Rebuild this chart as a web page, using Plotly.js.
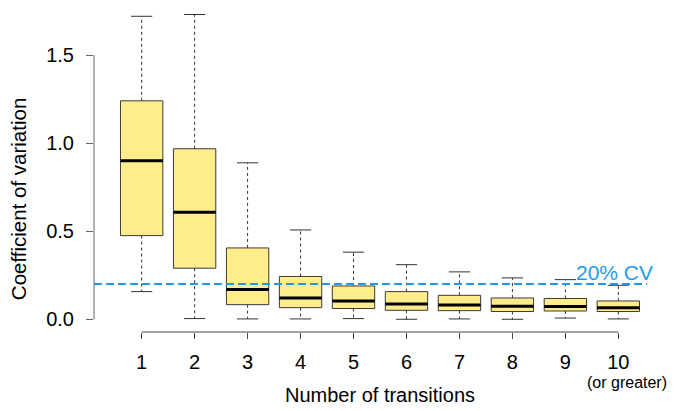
<!DOCTYPE html>
<html>
<head>
<meta charset="utf-8">
<script src="https://cdn.plot.ly/plotly-3.0.1.min.js"></script>
<style>html,body{margin:0;padding:0;background:#fff;}#chart{width:676px;height:411px;}</style>
</head>
<body>
<div id="chart"></div>
<script>
// Data
const categories = [1, 2, 3, 4, 5, 6, 7, 8, 9, 10];
const tickLabels = ['1', '2', '3', '4', '5', '6', '7', '8', '9', '10'];
const lowerWhisker = [0.157, 0.004, 0.002, 0.002, 0.004, 0.000, 0.002, 0.000, 0.007, 0.002];
const q1 = [0.475, 0.290, 0.083, 0.066, 0.061, 0.051, 0.049, 0.044, 0.047, 0.044];
const median = [0.900, 0.608, 0.169, 0.121, 0.104, 0.087, 0.081, 0.074, 0.072, 0.066];
const q3 = [1.240, 0.968, 0.405, 0.243, 0.189, 0.157, 0.136, 0.121, 0.118, 0.104];
const upperWhisker = [1.720, 1.730, 0.888, 0.507, 0.381, 0.310, 0.269, 0.235, 0.225, 0.193];
const cvThreshold = 0.2;
const yTicks = [0, 0.5, 1.0, 1.5];

const FONT = 'Liberation Sans, Arial, Helvetica, sans-serif';
const BOXW = 0.8, CAPW = 0.4;

function segs(xFn, yFn) {
  const xs = [], ys = [];
  categories.forEach((c, i) => {
    const [xa, xb] = xFn(c, i); const [ya, yb] = yFn(c, i);
    xs.push(xa, xb, null); ys.push(ya, yb, null);
  });
  return {x: xs, y: ys};
}

const whiskUp = segs(c => [c, c], (c, i) => [q3[i], upperWhisker[i]]);
const whiskDn = segs(c => [c, c], (c, i) => [q1[i], lowerWhisker[i]]);
const capUp = segs(c => [c - CAPW / 2, c + CAPW / 2], (c, i) => [upperWhisker[i], upperWhisker[i]]);
const capDn = segs(c => [c - CAPW / 2, c + CAPW / 2], (c, i) => [lowerWhisker[i], lowerWhisker[i]]);
const med = segs(c => [c - BOXW / 2, c + BOXW / 2], (c, i) => [median[i], median[i]]);

const whiskLine = {color: '#333', width: 1, dash: '3px,3px'};
const capLine = {color: '#333', width: 1};

const traces = [
  {type: 'bar', x: categories, base: q1, y: q3.map((v, i) => v - q1[i]), width: BOXW,
   marker: {color: '#FFEC8B', line: {color: '#3a3a3a', width: 1}}, hoverinfo: 'skip'},
  {type: 'scatter', mode: 'lines', x: whiskUp.x, y: whiskUp.y, line: whiskLine, hoverinfo: 'skip'},
  {type: 'scatter', mode: 'lines', x: whiskDn.x, y: whiskDn.y, line: whiskLine, hoverinfo: 'skip'},
  {type: 'scatter', mode: 'lines', x: capUp.x, y: capUp.y, line: capLine, hoverinfo: 'skip'},
  {type: 'scatter', mode: 'lines', x: capDn.x, y: capDn.y, line: capLine, hoverinfo: 'skip'},
  {type: 'scatter', mode: 'lines', x: med.x, y: med.y, line: {color: '#000', width: 3}, hoverinfo: 'skip'}
];

const layout = {
  width: 676, height: 411,
  margin: {l: 94, r: 10, t: 2, b: 79},
  paper_bgcolor: '#fff', plot_bgcolor: '#fff',
  showlegend: false,
  font: {family: FONT, color: '#000', size: 20},
  xaxis: {
    range: [0.1, 10.9], tickvals: categories, ticktext: tickLabels,
    ticks: 'outside', ticklen: 6, tickcolor: '#444', tickwidth: 1,
    showline: false, showgrid: false, zeroline: false,
    tickfont: {size: 20, family: FONT}, ticklabelstandoff: 6,
    title: {text: 'Number of transitions', font: {size: 20, family: FONT}, standoff: 15}
  },
  yaxis: {
    range: [-0.0722, 1.801], tickvals: yTicks, ticktext: yTicks.map(v => v.toFixed(1)),
    ticks: 'outside', ticklen: 7, tickcolor: '#666', tickwidth: 1,
    showline: false, showgrid: false, zeroline: false,
    tickfont: {size: 20, family: FONT}, ticklabelstandoff: 8
  },
  shapes: [
    {type: 'line', xref: 'paper', yref: 'y', x0: 0, x1: 0, y0: yTicks[0], y1: yTicks[yTicks.length - 1],
     line: {color: '#666', width: 1}},
    {type: 'line', xref: 'x', yref: 'paper', x0: categories[0], x1: categories[categories.length - 1], y0: 0, y1: 0,
     line: {color: '#444', width: 1}},
    {type: 'line', xref: 'paper', yref: 'y', x0: 0, x1: 0.967, y0: cvThreshold, y1: cvThreshold, layer: 'above',
     line: {color: '#1f9be6', width: 2, dash: '8px,4px'}}
  ],
  annotations: [
    {xref: 'paper', yref: 'y', x: 0, y: 0.682, xshift: -76, text: 'Coefficient of variation', textangle: -90,
     showarrow: false, xanchor: 'center', yanchor: 'middle', font: {size: 20.5, color: '#000', family: FONT}},
    {xref: 'x', yref: 'y', x: 10, y: cvThreshold, xshift: -4, yshift: 12, text: '20% CV', showarrow: false,
     xanchor: 'center', yanchor: 'middle', font: {size: 21, color: '#1f9be6', family: FONT}},
    {xref: 'x', yref: 'paper', x: 10, y: 0, xshift: 9, yshift: -50, text: '(or greater)', showarrow: false,
     xanchor: 'center', yanchor: 'middle', font: {size: 16, color: '#000', family: FONT}}
  ]
};

Plotly.newPlot('chart', traces, layout, {displayModeBar: false, staticPlot: true});
</script>
</body>
</html>
